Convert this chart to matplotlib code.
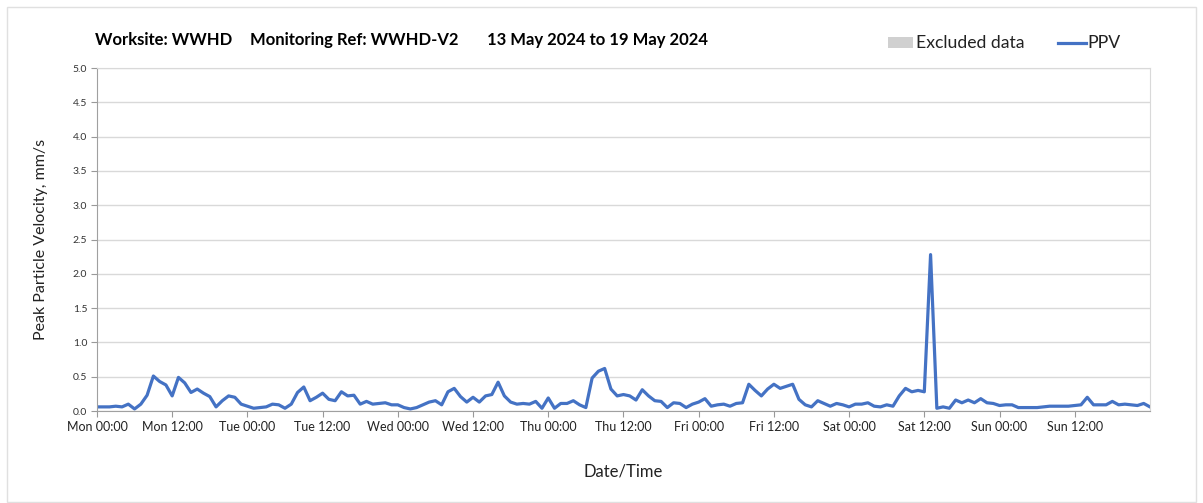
import matplotlib
matplotlib.use('Agg')
import matplotlib.pyplot as plt
from matplotlib.patches import Rectangle
from matplotlib.lines import Line2D
import numpy as np

plt.rcParams['font.family'] = ['Lato', 'DejaVu Sans']

# 每小时一个读数 (Mon 00:00 -> Sun 24:00)
hours = list(range(0, 169))
ppv = [
    # Mon
    0.06, 0.06, 0.06, 0.07, 0.06, 0.10, 0.03, 0.10, 0.23, 0.51, 0.43, 0.38,
    0.22, 0.49, 0.41, 0.27, 0.32, 0.26, 0.21, 0.06, 0.15, 0.22, 0.20, 0.10,
    # Tue
    0.07, 0.04, 0.05, 0.06, 0.10, 0.09, 0.04, 0.10, 0.27, 0.35, 0.15, 0.20,
    0.26, 0.17, 0.15, 0.28, 0.22, 0.23, 0.10, 0.14, 0.10, 0.11, 0.12, 0.09,
    # Wed
    0.09, 0.05, 0.03, 0.05, 0.09, 0.13, 0.15, 0.09, 0.28, 0.33, 0.21, 0.13,
    0.20, 0.13, 0.22, 0.24, 0.42, 0.22, 0.13, 0.10, 0.11, 0.10, 0.14, 0.04,
    # Thu
    0.19, 0.04, 0.11, 0.11, 0.15, 0.09, 0.05, 0.48, 0.58, 0.62, 0.32, 0.22,
    0.24, 0.22, 0.16, 0.31, 0.22, 0.15, 0.14, 0.05, 0.12, 0.11, 0.05, 0.10,
    # Fri
    0.13, 0.18, 0.07, 0.09, 0.10, 0.07, 0.11, 0.12, 0.39, 0.30, 0.22, 0.32,
    0.39, 0.33, 0.36, 0.39, 0.17, 0.09, 0.06, 0.15, 0.11, 0.07, 0.11, 0.09,
    # Sat
    0.06, 0.10, 0.10, 0.12, 0.07, 0.06, 0.09, 0.07, 0.22, 0.33, 0.28, 0.30,
    0.28, 2.28, 0.04, 0.06, 0.04, 0.16, 0.12, 0.16, 0.12, 0.18, 0.12, 0.11,
    # Sun
    0.08, 0.09, 0.09, 0.05, 0.05, 0.05, 0.05, 0.06, 0.07, 0.07, 0.07, 0.07,
    0.08, 0.09, 0.20, 0.09, 0.09, 0.09, 0.14, 0.09, 0.10, 0.09, 0.08, 0.11,
    0.06,
]
tick_hours = list(range(0, 168, 12))
tick_labels = ['Mon 00:00', 'Mon 12:00', 'Tue 00:00', 'Tue 12:00', 'Wed 00:00', 'Wed 12:00',
               'Thu 00:00', 'Thu 12:00', 'Fri 00:00', 'Fri 12:00', 'Sat 00:00', 'Sat 12:00',
               'Sun 00:00', 'Sun 12:00']
day_hours = list(range(24, 168, 24))
yticks = [0.0, 0.5, 1.0, 1.5, 2.0, 2.5, 3.0, 3.5, 4.0, 4.5, 5.0]

blue = '#4472C4'
grid_c = '#d9d9d9'
W, H = 1203, 503

fig = plt.figure(figsize=(12.03, 5.03), dpi=100)
fig.patches.append(Rectangle((0.006, 0.002), 0.988, 0.985, transform=fig.transFigure,
                             fill=False, edgecolor='#e0e0e0', linewidth=1))
ax = fig.add_axes([0.0806, 0.1829, 0.8753, 0.6819])

ax.plot(hours, ppv, color=blue, linewidth=2.3, solid_joinstyle='round')

ax.set_xlim(0, 168)
ax.set_ylim(0, 5.0)
ax.set_yticks(yticks)
ax.set_yticklabels(['%.1f' % v for v in yticks], fontsize=7.5, color='#333333')
ax.set_xticks(tick_hours)
ax.set_xticklabels(tick_labels, fontsize=9, color='#222222')
ax.set_xticks(day_hours, minor=True)
ax.tick_params(axis='x', which='minor', length=0)
ax.tick_params(axis='both', which='major', length=4, color='#999999', pad=3)
ax.grid(axis='y', color=grid_c, linewidth=1)
ax.grid(axis='x', which='minor', color=grid_c, linewidth=1)
ax.set_axisbelow(True)
for s in ['top', 'right']:
    ax.spines[s].set_color(grid_c)
for s in ['left', 'bottom']:
    ax.spines[s].set_color('#a0a0a0')

ax.set_ylabel('Peak Particle Velocity, mm/s', fontsize=11.5, color='#222222', labelpad=18)
ax.set_xlabel('Date/Time', fontsize=12, color='#222222', labelpad=22)

# 标题
ty = 1 - 40 / H
fig.text(95 / W, ty, 'Worksite: WWHD', fontsize=12, fontweight='bold', va='center')
fig.text(250 / W, ty, 'Monitoring Ref: WWHD-V2', fontsize=12, fontweight='bold', va='center')
fig.text(487 / W, ty, '13 May 2024 to 19 May 2024', fontsize=12, fontweight='bold', va='center')

# 图例 (手动绘制)
ly = 1 - 43 / H
fig.patches.append(Rectangle((888 / W, 1 - 48 / H), 25 / W, 11 / H, transform=fig.transFigure,
                             facecolor='#d0d0d0', edgecolor='none'))
fig.text(916 / W, ly, 'Excluded data', fontsize=12.7, va='center', color='#222222')
fig.lines.append(Line2D([1058 / W, 1086 / W], [ly, ly], transform=fig.transFigure,
                        color=blue, linewidth=2.3))
fig.text(1087 / W, ly, 'PPV', fontsize=12.7, va='center', color='#222222')

fig.savefig('out.png', dpi=100)
